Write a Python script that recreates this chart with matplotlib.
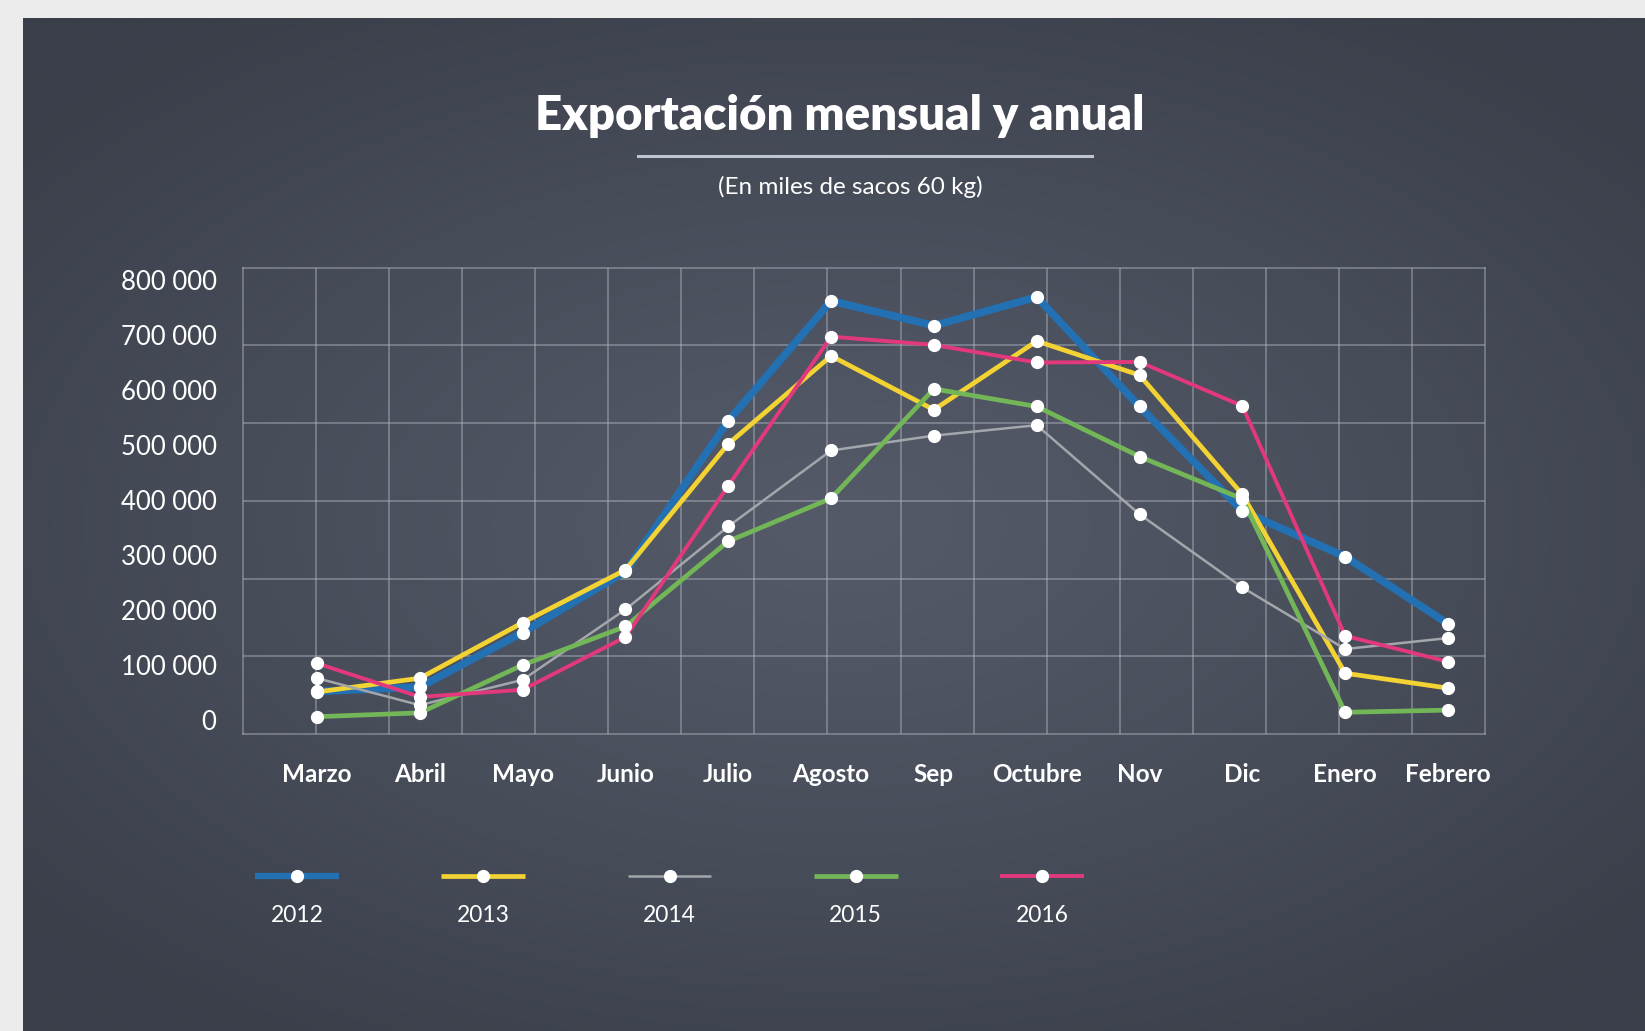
import numpy as np
import matplotlib
matplotlib.use("Agg")
import matplotlib.pyplot as plt
from matplotlib.lines import Line2D
from matplotlib.ticker import FuncFormatter

# ---------------------------------------------------------------- data
months = ["Marzo", "Abril", "Mayo", "Junio", "Julio", "Agosto", "Sep",
          "Octubre", "Nov", "Dic", "Enero", "Febrero"]
years = ["2012", "2013", "2014", "2015", "2016"]

exp_2012 = [52000, 60000, 159000, 270000, 544000, 762000, 717000, 769000, 570000, 380000, 297000, 175000]
exp_2013 = [51000, 76000, 177000, 273000, 502000, 662000, 564000, 689000, 627000, 410000, 85000, 58000]
exp_2014 = [76000, 27000, 73000, 201000, 352000, 490000, 517000, 536000, 374000, 241000, 129000, 149000]
exp_2015 = [6000, 13000, 100000, 170000, 325000, 403000, 602000, 570000, 479000, 402000, 14000, 18000]
exp_2016 = [103000, 42000, 55000, 151000, 426000, 697000, 682000, 650000, 651000, 571000, 153000, 106000]

y_ticks = [0, 100000, 200000, 300000, 400000, 500000, 600000, 700000, 800000]

series = [exp_2012, exp_2013, exp_2014, exp_2015, exp_2016]
colors = ["#2370b3", "#f3d234", "#a3a6ab", "#72b657", "#e2397c"]
widths = [5.5, 3.4, 1.8, 3.4, 2.8]
draw_order = [0, 2, 3, 4, 1]

FONT = ["Lato", "DejaVu Sans"]
plt.rcParams["font.family"] = FONT

W, H = 1645, 1031
fig = plt.figure(figsize=(W / 100, H / 100), dpi=100, facecolor="#ececec")


def px_rect(l, t, r, b):
    return [l / W, 1 - b / H, (r - l) / W, (b - t) / H]


# ---------------------------------------------------------------- background panel
bg = fig.add_axes(px_rect(23, 18, W, H))
gy, gx = np.mgrid[0:1:300j, 0:1:480j]
d = np.clip(np.sqrt(((gx - 0.5) / 0.65) ** 2 + ((gy - 0.5) / 0.6) ** 2), 0, 1)
c_mid = np.array([0x54, 0x5a, 0x68]) / 255
c_edge = np.array([0x3a, 0x3f, 0x4a]) / 255
img = c_mid[None, None, :] + (c_edge - c_mid)[None, None, :] * d[..., None] ** 1.2
bg.imshow(img, aspect="auto", extent=(0, 1, 0, 1), interpolation="bilinear")
bg.set_axis_off()

# ---------------------------------------------------------------- decorative grid
rect = px_rect(243, 267.5, 1485, 734)
gax = fig.add_axes(rect)
gax.set_facecolor("none")
gax.set_xlim(0, 17)
gax.set_ylim(0, 6)
gax.set_xticks(range(1, 17))
gax.set_yticks(range(1, 6))
gax.tick_params(length=0, labelbottom=False, labelleft=False)
gax.grid(True, color="#b4b9c2", alpha=0.55, lw=1.1)
for sp in gax.spines.values():
    sp.set_color("#b4b9c2")
    sp.set_alpha(0.55)
    sp.set_linewidth(1.1)

# ---------------------------------------------------------------- main chart
ax = fig.add_axes(rect)
ax.set_facecolor("none")
x = np.arange(len(months))
for i in draw_order:
    ax.plot(x, series[i], color=colors[i], lw=widths[i], solid_joinstyle="round",
            solid_capstyle="round", zorder=2 + i * 0.1)
for i in draw_order:
    ax.plot(x, series[i], ls="none", marker="o", ms=8.5, mfc="white", mec="white",
            zorder=5)

ax.set_xlim(-0.72, 11.36)
ax.set_ylim(-25450, 822700)
ax.set_xticks(x)
ax.set_xticklabels(months, fontsize=17.5, fontweight="bold", color="white")
ax.set_yticks(y_ticks)
ax.yaxis.set_major_formatter(FuncFormatter(lambda v, p: f"{int(v):,}".replace(",", " ")))
ax.tick_params(axis="y", length=0, pad=19, labelsize=18.5, labelcolor="white")
ax.tick_params(axis="x", length=0, pad=21)
for sp in ax.spines.values():
    sp.set_visible(False)

# ---------------------------------------------------------------- titles
fig.text(840 / W, 1 - 116 / H, "Exportación mensual y anual", ha="center", va="center",
         fontsize=34, fontweight="heavy", color="white")
fig.add_artist(Line2D([638 / W, 1092 / W], [1 - 156 / H, 1 - 156 / H],
                      color="#bfc6d2", lw=2.2))
fig.text(850 / W, 1 - 187 / H, "(En miles de sacos 60 kg)", ha="center", va="center",
         fontsize=17.5, color="white")

# ---------------------------------------------------------------- legend
lax = fig.add_axes(px_rect(204, 850, 1135, 940))
lax.set_xlim(-0.5, 4.5)
lax.set_ylim(0, 1)
lax.set_axis_off()
for i, yr in enumerate(years):
    lax.plot([i - 0.225, i + 0.225], [0.71, 0.71], color=colors[i], lw=min(widths[i], 4.5),
             solid_capstyle="butt")
    lax.plot([i], [0.71], ls="none", marker="o", ms=8.5, mfc="white", mec="white")
    lax.text(i, 0.27, yr, ha="center", va="center", fontsize=16.5, color="white")

fig.savefig("out.png", dpi=100, facecolor=fig.get_facecolor())
